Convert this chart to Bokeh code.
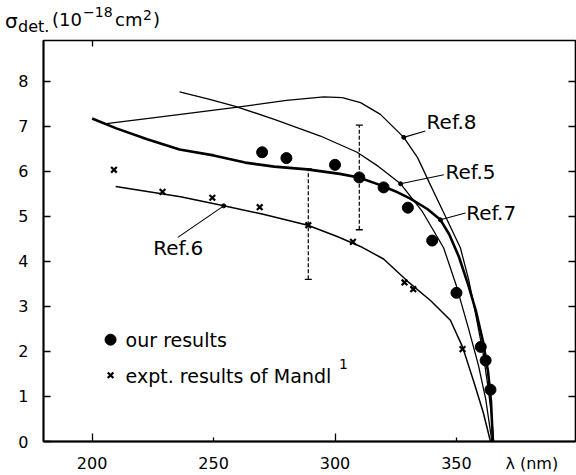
from bokeh.plotting import figure
from bokeh.models import (Range1d, LinearAxis, FixedTicker, Label, Whisker, TeeHead,
                          ColumnDataSource, Div)
from bokeh.layouts import column
from bokeh.embed import file_html
from bokeh.resources import INLINE

# ---------------- data ----------------
x_ticks = [200, 250, 300, 350]
y_ticks = [0, 1, 2, 3, 4, 5, 6, 7, 8]

# our results (dots)
dots_x = [270, 280, 300, 310, 320, 330, 340, 350, 360, 362, 364]
dots_y = [6.42, 6.29, 6.14, 5.86, 5.64, 5.19, 4.46, 3.30, 2.10, 1.80, 1.15]

# expt. results of Mandl (crosses)
mandl_x = [209, 229, 249.5, 269, 289, 307.4, 328.6, 332.2, 352.5]
mandl_y = [6.03, 5.54, 5.41, 5.20, 4.80, 4.43, 3.53, 3.38, 2.05]

# theoretical curves
ref8_x = [205, 220, 236.4, 260, 280, 295.4, 303, 310.5, 318.7, 328.3, 334, 339.3, 345, 351.6, 355, 358, 361, 363, 364.5, 365.3]
ref8_y = [7.05, 7.15, 7.26, 7.42, 7.57, 7.65, 7.63, 7.52, 7.26, 6.75, 6.30, 5.69, 5.05, 4.30, 3.60, 2.80, 1.95, 1.20, 0.55, 0.00]

ref5_x = [236, 248, 259, 275, 294, 309.1, 318, 327, 336, 344.7, 350, 355, 359, 362, 364.6]
ref5_y = [7.76, 7.60, 7.44, 7.15, 6.78, 6.42, 6.10, 5.72, 5.10, 4.30, 3.45, 2.50, 1.70, 0.95, 0.00]

ref7_x = [200, 210, 222.7, 236, 250, 263, 275, 288.6, 302, 309.8, 318.7, 325, 331, 338, 343.4, 347, 351, 355, 358, 361, 363, 364.2, 365]
ref7_y = [7.17, 6.95, 6.71, 6.48, 6.35, 6.19, 6.10, 6.04, 5.94, 5.86, 5.69, 5.55, 5.39, 5.16, 4.92, 4.60, 4.10, 3.45, 2.90, 2.20, 1.55, 0.90, 0.00]

ref6_x = [209.7, 236.4, 254.2, 270, 288.8, 300.9, 311.2, 320, 330, 339.3, 347.5, 352.5, 357, 361, 364]
ref6_y = [5.66, 5.43, 5.23, 5.05, 4.80, 4.55, 4.31, 4.05, 3.55, 3.13, 2.69, 2.10, 1.35, 0.65, 0.00]

# error bars
err_x = [289, 310]
err_lo = [3.60, 4.70]
err_hi = [6.05, 7.02]

# curve labels
ref_names = ["Ref.8", "Ref.5", "Ref.7", "Ref.6"]
ref_point_x = [328.3, 327.0, 343.4, 254.2]
ref_point_y = [6.75, 5.72, 4.92, 5.23]

# ---------------- figure ----------------
FONT = "DejaVu Sans"
W, H_TITLE, H_FIG = 576, 36, 439

p = figure(width=W, height=H_FIG, x_range=Range1d(180, 399), y_range=Range1d(0, 8.9),
           output_backend="svg", toolbar_location=None,
           min_border_left=43, min_border_right=1, min_border_top=4, min_border_bottom=29)
p.grid.visible = False
p.outline_line_color = "black"
p.outline_line_width = 1.6
p.background_fill_color = "white"
p.border_fill_color = "white"

# bottom: long ticks only (no labels) right at the frame
xa = p.xaxis[0]
xa.ticker = FixedTicker(ticks=[], minor_ticks=[200, 300])
xa.minor_tick_in = 8
xa.minor_tick_out = 0
xa.minor_tick_line_width = 1.3
xa.axis_line_width = 1.8

# bottom: tick labels + λ (nm), short ticks at 250/350
xl = LinearAxis(ticker=FixedTicker(ticks=x_ticks + [381], minor_ticks=[250, 350]),
                major_label_overrides={381: "λ (nm)"},
                major_tick_line_color=None, axis_line_color=None,
                minor_tick_in=4, minor_tick_out=0, minor_tick_line_width=1.3,
                major_label_standoff=6, major_label_text_font=FONT,
                major_label_text_font_size="16px", major_label_text_color="black")
p.add_layout(xl, "below")

# top: single small tick
ta = LinearAxis(ticker=FixedTicker(ticks=[], minor_ticks=[200]),
                minor_tick_in=6, minor_tick_out=0, minor_tick_line_width=1.3,
                axis_line_color=None)
p.add_layout(ta, "above")

ya = p.yaxis[0]
ya.ticker = FixedTicker(ticks=y_ticks, minor_ticks=[])
ya.major_tick_in = 7
ya.major_tick_out = 0
ya.minor_tick_line_color = None
ya.axis_line_width = 1.8
ya.major_tick_line_width = 1.3
ya.major_label_standoff = 15
ya.major_label_text_font = FONT
ya.major_label_text_font_size = "16px"
ya.major_label_text_color = "black"

# right: ticks only
ra = LinearAxis(ticker=FixedTicker(ticks=[], minor_ticks=y_ticks[1:]),
                minor_tick_in=7, minor_tick_out=0, minor_tick_line_width=1.3,
                axis_line_color=None)
p.add_layout(ra, "right")

# curves
p.line(ref8_x, ref8_y, line_color="black", line_width=1.3)
p.line(ref5_x, ref5_y, line_color="black", line_width=1.3)
p.line(ref6_x, ref6_y, line_color="black", line_width=1.5)
p.line(ref7_x, ref7_y, line_color="black", line_width=2.6, line_join="round")

# error bars
src = ColumnDataSource(dict(x=err_x, lo=err_lo, hi=err_hi))
p.add_layout(Whisker(source=src, base="x", lower="lo", upper="hi", dimension="height",
                     line_color="black", line_width=1.2, line_dash="4 2",
                     upper_head=TeeHead(size=7, line_width=1.3, line_color="black"),
                     lower_head=TeeHead(size=7, line_width=1.3, line_color="black")))

# data points
p.scatter(dots_x, dots_y, size=11, color="black")
p.scatter(mandl_x, mandl_y, marker="x", size=8, line_width=2.2, color="black")

# curve labels with pointers
text_x = [337.7, 345.5, 354.0, 225.2]
text_y = [7.09, 5.98, 5.07, 4.29]
lead_x = [337.2, 344.8, 353.7, 235.3]
lead_y = [6.89, 5.92, 5.07, 4.53]
for name, tx, ty, lx, ly, qx, qy in zip(ref_names, text_x, text_y, lead_x, lead_y,
                                        ref_point_x, ref_point_y):
    p.line([lx, qx], [ly, qy], line_color="black", line_width=1.1)
    p.scatter([qx], [qy], size=4, color="black")
    p.add_layout(Label(x=tx, y=ty, text=name, text_font=FONT, text_font_size="20px",
                       text_baseline="middle", text_color="black"))

# legend
p.scatter([207.6], [2.26], size=11, color="black")
p.add_layout(Label(x=213.8, y=2.26, text="our results", text_font=FONT, text_font_size="19px",
                   text_baseline="middle", text_color="black"))
p.scatter([207.6], [1.47], marker="x", size=8, line_width=2.2, color="black")
p.add_layout(Label(x=213.8, y=1.45, text="expt. results of  Mandl", text_font=FONT,
                   text_font_size="19px", text_baseline="middle", text_color="black"))
p.add_layout(Label(x=301.6, y=1.72, text="1", text_font=FONT, text_font_size="14px",
                   text_baseline="middle", text_color="black"))

# y-axis title above the frame
span = "position:absolute;line-height:1;white-space:nowrap;"
title_html = (
    "<div style=\"position:relative;width:576px;height:36px;font-family:'DejaVu Sans';color:black;\">"
    f"<span style='{span}left:5px;top:11px;font-size:20px;'>σ</span>"
    f"<span style='{span}left:18px;top:19px;font-size:16px;'>det.</span>"
    f"<span style='{span}left:52px;top:11px;font-size:18px;'>(10</span>"
    f"<span style='{span}left:83px;top:5px;font-size:14px;'>−18</span>"
    f"<span style='{span}left:115px;top:11px;font-size:18px;'>cm</span>"
    f"<span style='{span}left:143px;top:8px;font-size:14px;'>2</span>"
    f"<span style='{span}left:153px;top:11px;font-size:18px;'>)</span>"
    "</div>"
)
title = Div(text=title_html, width=W, height=H_TITLE, margin=(0, 0, 0, 0))

layout = column(title, p, spacing=0)
open("out.html", "w").write(file_html(layout, INLINE))
